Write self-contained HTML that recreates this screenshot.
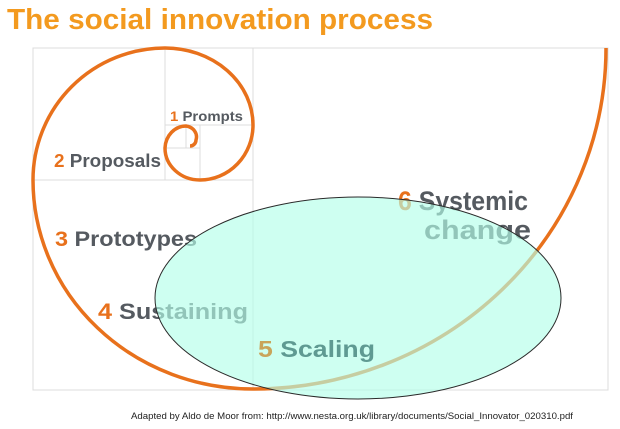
<!DOCTYPE html>
<html><head><style>
body{margin:0;background:#fff;}
svg{display:block;}
</style></head><body>
<svg width="620" height="429" viewBox="0 0 620 429" xmlns="http://www.w3.org/2000/svg">
<text x="7" y="29" font-family="Liberation Sans, sans-serif" font-weight="bold" font-size="29" fill="#f39a1f" textLength="426" lengthAdjust="spacingAndGlyphs">The social innovation process</text>
<g stroke="#dcdcdc" stroke-width="1" fill="none">
<rect x="33" y="48" width="575" height="342"/>
<line x1="253" y1="48" x2="253" y2="390"/>
<line x1="33" y1="180" x2="253" y2="180"/>
<line x1="165" y1="48" x2="165" y2="180"/>
<line x1="165" y1="125" x2="253" y2="125"/>
<line x1="200" y1="125" x2="200" y2="180"/>
<line x1="165" y1="148" x2="200" y2="148"/>
<line x1="186" y1="125" x2="186" y2="148"/>
</g>
<path d="M606,48 A353,341 0 0 1 253,389 A220,209 0 0 1 33,180 A132,132 0 0 1 165,48 A88,77 0 0 1 253,125 A53,55 0 0 1 200,180 A35,32 0 0 1 165,148 A21,23 0 0 1 186,126 A12,11 0 0 1 196,140 A6,6 0 0 1 190,146" fill="none" stroke="#e8711c" stroke-width="3.5"/>
<g font-family="Liberation Sans, sans-serif" font-weight="bold">
<text x="170" y="121" font-size="14" textLength="73" lengthAdjust="spacingAndGlyphs"><tspan fill="#e8711c">1 </tspan><tspan fill="#555a60">Prompts</tspan></text>
<text x="54" y="167" font-size="18" textLength="107" lengthAdjust="spacingAndGlyphs"><tspan fill="#e8711c">2 </tspan><tspan fill="#555a60">Proposals</tspan></text>
<text x="55" y="246" font-size="21" textLength="142" lengthAdjust="spacingAndGlyphs"><tspan fill="#e8711c">3 </tspan><tspan fill="#555a60">Prototypes</tspan></text>
<text x="98" y="319" font-size="22" textLength="150" lengthAdjust="spacingAndGlyphs"><tspan fill="#e8711c">4 </tspan><tspan fill="#555a60">Sustaining</tspan></text>
<text x="398" y="210" font-size="27" textLength="130" lengthAdjust="spacingAndGlyphs"><tspan fill="#e8711c">6 </tspan><tspan fill="#555a60">Systemic</tspan></text>
<text x="424" y="239" font-size="27" fill="#555a60" textLength="107" lengthAdjust="spacingAndGlyphs">change</text>
</g>
<ellipse cx="358" cy="298" rx="203" ry="101" fill="#b3ffea" fill-opacity="0.65" stroke="#2a2a2a" stroke-width="1"/>
<g font-family="Liberation Sans, sans-serif" font-weight="bold">
<text x="258" y="357" font-size="23" textLength="117" lengthAdjust="spacingAndGlyphs"><tspan fill="#c9a45a">5 </tspan><tspan fill="#5f9a92">Scaling</tspan></text>
</g>
<text x="131" y="419" font-family="Liberation Sans, sans-serif" font-size="9.6" fill="#222" textLength="442" lengthAdjust="spacingAndGlyphs">Adapted by Aldo de Moor from: http://www.nesta.org.uk/library/documents/Social_Innovator_020310.pdf</text>
</svg>
</body></html>
